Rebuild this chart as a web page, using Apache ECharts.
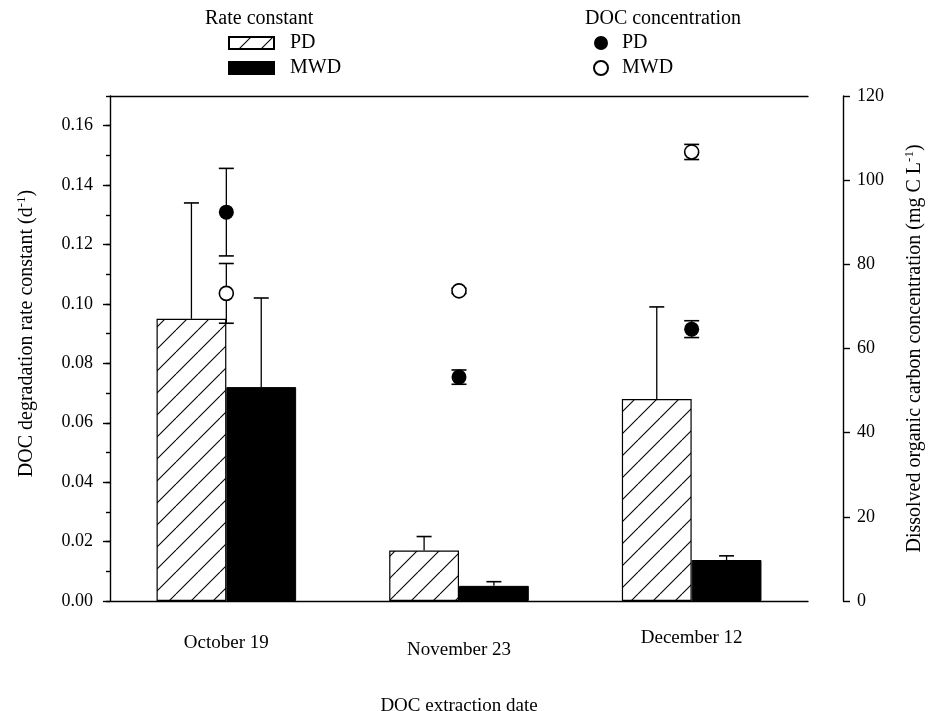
<!DOCTYPE html>
<html>
<head>
<meta charset="utf-8">
<script src="https://cdn.jsdelivr.net/npm/echarts@6/dist/echarts.min.js"></script>
<style>html,body{margin:0;padding:0;background:#fff;}#c{width:935px;height:711px;}</style>
</head>
<body>
<div id="c"></div>
<script>
// ---- data ----
const categories = ['October 19', 'November 23', 'December 12'];
const ratePD = [0.095, 0.017, 0.068];
const ratePDErr = [0.039, 0.0047, 0.031];
const rateMWD = [0.072, 0.0051, 0.0138];
const rateMWDErr = [0.030, 0.0014, 0.0014];
const docPD = [92.4, 53.2, 64.6];
const docPDErr = [10.4, 1.7, 2.0];
const docMWD = [73.1, 73.7, 106.7];
const docMWDErr = [7.1, 0.6, 1.8];
const leftMax = 0.17, leftLabelMax = 0.16, leftMajor = 0.02, leftMinor = 0.01;
const rightMax = 120, rightStep = 20;
const legendTitles = ['Rate constant', 'DOC concentration'];

// ---- styles ----
const FONT = 'Liberation Serif';
const gridLeft = 110, gridRight = 127, gridTop = 96, gridBottom = 110;
const plotH = 711 - gridTop - gridBottom;

function hatch() {
  const s = 22;
  const c = document.createElement('canvas');
  c.width = s; c.height = s;
  const g = c.getContext('2d');
  g.fillStyle = '#fff'; g.fillRect(0, 0, s, s);
  g.strokeStyle = '#000'; g.lineWidth = 1.1;
  for (let k = -1; k <= 1; k++) {
    g.beginPath(); g.moveTo(k * s, s); g.lineTo(k * s + s, 0); g.stroke();
  }
  return c;
}
const hatchFill = { image: hatch(), repeat: 'repeat' };

function barErr(sign) {
  return function (params, api) {
    const i = api.value(0), v = api.value(1), e = api.value(2);
    const band = api.size([1, 0])[0];
    const p0 = api.coord([i, v]);
    const p1 = api.coord([i, v + e]);
    const x = p0[0] + sign * band * 0.15;
    const cap = 7.5;
    return { type: 'group', children: [
      { type: 'line', shape: { x1: x, y1: p0[1], x2: x, y2: p1[1] }, style: { stroke: '#000', lineWidth: 1.3 } },
      { type: 'line', shape: { x1: x - cap, y1: p1[1], x2: x + cap, y2: p1[1] }, style: { stroke: '#000', lineWidth: 1.6 } }
    ]};
  };
}
function ptErr(params, api) {
  const i = api.value(0), v = api.value(1), e = api.value(2);
  const lo = api.coord([i, v - e]);
  const hi = api.coord([i, v + e]);
  const x = lo[0], cap = 7.5;
  return { type: 'group', children: [
    { type: 'line', shape: { x1: x, y1: lo[1], x2: x, y2: hi[1] }, style: { stroke: '#000', lineWidth: 1.3 } },
    { type: 'line', shape: { x1: x - cap, y1: hi[1], x2: x + cap, y2: hi[1] }, style: { stroke: '#000', lineWidth: 1.6 } },
    { type: 'line', shape: { x1: x - cap, y1: lo[1], x2: x + cap, y2: lo[1] }, style: { stroke: '#000', lineWidth: 1.6 } }
  ]};
}
const errData = (vals, errs) => vals.map((v, i) => [i, v, errs[i]]);

const axisLineStyle = { color: '#000', width: 1.4 };
const txt = { fontFamily: FONT, color: '#000' };

const chart = echarts.init(document.getElementById('c'), null, { renderer: 'canvas' });
chart.setOption({
  animation: false,
  backgroundColor: '#fff',
  title: [
    { text: legendTitles[0], left: 205, top: 9, padding: 0, textStyle: { ...txt, fontSize: 20, fontWeight: 'normal' } },
    { text: legendTitles[1], left: 585, top: 9, padding: 0, textStyle: { ...txt, fontSize: 20, fontWeight: 'normal' } }
  ],
  legend: [
    { data: ['PD_k', 'MWD_k'], orient: 'vertical', left: 228, top: 33, padding: 0, itemGap: 5,
      itemWidth: 45, itemHeight: 12, selectedMode: false, icon: 'rect',
      formatter: n => n.split('_')[0],
      textStyle: { ...txt, fontSize: 20, padding: [0, 0, 0, 11] } },
    { data: ['PD_c', 'MWD_c'], orient: 'vertical', left: 593, top: 33, padding: 0, itemGap: 5,
      itemWidth: 14, itemHeight: 14, selectedMode: false,
      formatter: n => n.split('_')[0],
      textStyle: { ...txt, fontSize: 20, padding: [0, 0, 0, 9] } }
  ],
  grid: [
    { left: gridLeft, right: gridRight, top: gridTop, bottom: gridBottom, containLabel: false, outerBoundsMode: 'none' },
    { left: gridLeft, right: gridRight, top: gridTop + plotH * (leftMax - leftLabelMax) / leftMax, bottom: gridBottom, containLabel: false, outerBoundsMode: 'none' }
  ],
  xAxis: [
    { type: 'category', gridIndex: 0, data: categories, position: 'bottom',
      axisLine: { onZero: false, lineStyle: axisLineStyle },
      axisTick: { alignWithLabel: true, length: 7, lineStyle: axisLineStyle },
      axisLabel: { ...txt, fontSize: 19, margin: 27, interval: 0,
        formatter: (v, idx) => `{l${idx}|${v}}`,
        rich: { l0: { fontFamily: FONT, fontSize: 19, lineHeight: 30 },
                l1: { fontFamily: FONT, fontSize: 19, lineHeight: 44 },
                l2: { fontFamily: FONT, fontSize: 19, lineHeight: 20 } } },
      name: 'DOC extraction date', nameLocation: 'middle', nameGap: 96,
      nameTextStyle: { ...txt, fontSize: 19 } },
    { type: 'category', gridIndex: 0, data: categories, position: 'top',
      axisLine: { onZero: false, lineStyle: axisLineStyle },
      axisTick: { show: false }, axisLabel: { show: false } },
    { type: 'value', gridIndex: 1, show: false }
  ],
  yAxis: [
    { type: 'value', gridIndex: 0, position: 'left', min: 0, max: leftMax, interval: leftMinor,
      axisLine: { show: true, lineStyle: axisLineStyle },
      axisTick: { show: true, length: 4, lineStyle: axisLineStyle },
      axisLabel: { show: false }, splitLine: { show: false },
      name: '{n|DOC degradation rate constant (d}{s|-1}{n|)}', nameLocation: 'middle', nameGap: 72, nameRotate: 90,
      nameTextStyle: { ...txt, padding: [0, 0, 0, 30],
        rich: { n: { fontFamily: FONT, fontSize: 20, color: '#000' },
                s: { fontFamily: FONT, fontSize: 13, color: '#000', padding: [0, 0, 10, 0] } } } },
    { type: 'value', gridIndex: 0, position: 'right', offset: 35, min: 0, max: rightMax, interval: rightStep,
      axisLine: { show: true, lineStyle: axisLineStyle },
      axisTick: { show: true, length: 7, lineStyle: axisLineStyle },
      axisLabel: { ...txt, fontSize: 18, margin: 14 }, splitLine: { show: false },
      name: '{n|Dissolved organic carbon concentration (mg C L}{s|-1}{n|)}', nameLocation: 'middle', nameGap: 60, nameRotate: 90,
      nameTextStyle: { ...txt,
        rich: { n: { fontFamily: FONT, fontSize: 20, color: '#000' },
                s: { fontFamily: FONT, fontSize: 13, color: '#000', padding: [0, 0, 10, 0] } } } },
    { type: 'value', gridIndex: 1, position: 'left', min: 0, max: leftLabelMax, interval: leftMajor,
      axisLine: { show: false },
      axisTick: { show: true, length: 7, lineStyle: axisLineStyle },
      axisLabel: { ...txt, fontSize: 18, margin: 17, formatter: v => v.toFixed(2) },
      splitLine: { show: false } }
  ],
  series: [
    { name: 'PD_k', type: 'bar', xAxisIndex: 0, yAxisIndex: 0, data: ratePD, barWidth: '30%', barGap: '0%', z: 2,
      itemStyle: { color: hatchFill, borderColor: '#000', borderWidth: 1.2 } },
    { name: 'MWD_k', type: 'bar', xAxisIndex: 0, yAxisIndex: 0, data: rateMWD, barWidth: '30%', barGap: '0%', z: 2,
      itemStyle: { color: '#000', borderColor: '#000', borderWidth: 1 } },
    { type: 'custom', xAxisIndex: 0, yAxisIndex: 0, renderItem: barErr(-1), data: errData(ratePD, ratePDErr), z: 3, silent: true },
    { type: 'custom', xAxisIndex: 0, yAxisIndex: 0, renderItem: barErr(1), data: errData(rateMWD, rateMWDErr), z: 3, silent: true },
    { type: 'custom', xAxisIndex: 0, yAxisIndex: 1, renderItem: ptErr, data: errData(docPD, docPDErr), z: 4, silent: true },
    { type: 'custom', xAxisIndex: 0, yAxisIndex: 1, renderItem: ptErr, data: errData(docMWD, docMWDErr), z: 4, silent: true },
    { name: 'PD_c', type: 'scatter', xAxisIndex: 0, yAxisIndex: 1, data: docPD, symbol: 'circle', symbolSize: 15, z: 5,
      itemStyle: { color: '#000', opacity: 1 } },
    { name: 'MWD_c', type: 'scatter', xAxisIndex: 0, yAxisIndex: 1, data: docMWD, symbol: 'circle', symbolSize: 14, z: 5,
      itemStyle: { color: '#fff', borderColor: '#000', borderWidth: 1.6, opacity: 1 } }
  ]
});
</script>
</body>
</html>
